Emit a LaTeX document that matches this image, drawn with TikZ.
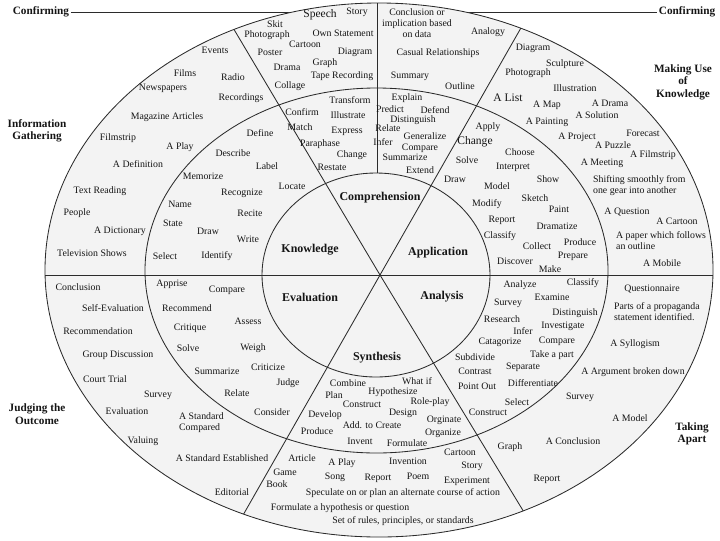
\documentclass[tikz,border=0pt]{standalone}
\usepackage{fontspec}
\setmainfont{Liberation Serif}
\definecolor{cline}{HTML}{2B2B2B}
\definecolor{cfill}{HTML}{F3F3F3}
\definecolor{ctext}{HTML}{151515}
\tikzset{
  every picture/.style={line width=0.6pt},
  item/.style={font=\fontsize{7}{7.8}\selectfont, text=ctext, inner sep=0.5pt, align=center},
  bigitem/.style={item, font=\fontsize{8.2}{9}\selectfont},
  core/.style={font=\fontsize{8.5}{9}\selectfont\bfseries, text=ctext, inner sep=0.5pt},
  side/.style={font=\fontsize{8}{8.8}\selectfont\bfseries, text=ctext, align=center, inner sep=1pt},
  ring/.style={draw=cline, line width=0.6pt},
}

\begin{document}
\begin{tikzpicture}[x=0.025cm, y=-0.025cm]
  \useasboundingbox (0,0) rectangle (720,540);

  % top line between the two Confirming labels
  \node[side] (confL) at (41,12) {Confirming};
  \node[side] (confR) at (687,12) {Confirming};
  \draw[ring] (confL) -- (confR);

  % the three rings
  \fill[cfill] (379,270) ellipse [x radius=334, y radius=267];
  \draw[ring] (379,270) ellipse [x radius=334, y radius=267];
  \draw[ring] (376.5,270.5) ellipse [x radius=231.5, y radius=182.5];
  \draw[ring] (376,275) ellipse [x radius=114, y radius=102];

  % spokes
  \coordinate (c) at (380,275);
  \coordinate (ul) at (204,-21);
  \coordinate (ur) at (550,-23);
  \coordinate (ll) at (218,559);
  \coordinate (lr) at (550,555);
  \coordinate (west) at (0,275);
  \coordinate (east) at (720,275);
  \coordinate (top) at (377,-5);
  \coordinate (itop) at (377,173);
  \begin{scope}
    \clip (379,270) ellipse [x radius=334, y radius=267];
    \draw[ring] (west) -- (east);
    \draw[ring] (c) -- (ul);
    \draw[ring] (c) -- (ur);
    \draw[ring] (c) -- (ll);
    \draw[ring] (c) -- (lr);
    \draw[ring] (itop) -- (top);
  \end{scope}

  % outside labels
  \node[side] (gath) at (37,131) {Information\\Gathering};
  \node[side] (use) at (683,82) {Making Use\\of\\Knowledge};
  \node[side] (judge) at (37,414) {Judging the\\Outcome};
  \node[side] (apart) at (692,434) {Taking\\Apart};

  % core
  \node[core] (know) at (310,250) {Knowledge};
  \node[core] (comp) at (380,198) {Comprehension};
  \node[core] (appl) at (438,253) {Application};
  \node[core] (eval) at (310,297) {Evaluation};
  \node[core] (anal) at (442,297) {Analysis};
  \node[core] (synt) at (377,358) {Synthesis};

  % middle ring: knowledge
  \node[item] (k1) at (260,133) {Define};
  \node[item] (k2) at (233,153) {Describe};
  \node[item] (k3) at (267,166) {Label};
  \node[item] (k4) at (203,176) {Memorize};
  \node[item] (k5) at (292,186) {Locate};
  \node[item] (k6) at (242,193) {Recognize};
  \node[item] (k7) at (180,204) {Name};
  \node[item] (k8) at (250,213) {Recite};
  \node[item] (k9) at (173,223) {State};
  \node[item] (k10) at (208,231) {Draw};
  \node[item] (k11) at (248,239) {Write};
  \node[item] (k12) at (165,256) {Select};
  \node[item] (k13) at (217,256) {Identify};

  % middle ring: comprehension
  \node[item] (c1) at (350,100) {Transform};
  \node[item] (c2) at (302,112) {Confirm};
  \node[item] (c3) at (348,115) {Illustrate};
  \node[item] (c4) at (300,127) {Match};
  \node[item] (c5) at (347,131) {Express};
  \node[item] (c6) at (320,144) {Paraphase};
  \node[item] (c7) at (352,155) {Change};
  \node[item] (c8) at (332,167) {Restate};
  \node[item] (c9) at (407,98) {Explain};
  \node[item] (c10) at (390,109) {Predict};
  \node[item] (c11) at (435,110) {Defend};
  \node[item] (c12) at (413,120) {Distinguish};
  \node[item] (c13) at (388,128) {Relate};
  \node[item] (c14) at (425,136) {Generalize};
  \node[item] (c15) at (383,142) {Infer};
  \node[item] (c16) at (420,148) {Compare};
  \node[item] (c17) at (405,157) {Summarize};
  \node[item] (c18) at (420,170) {Extend};

  % middle ring: application
  \node[item] (a1) at (488,127) {Apply};
  \node[bigitem] (a2) at (475,142) {Change};
  \node[item] (a3) at (520,152) {Choose};
  \node[item] (a4) at (467,160) {Solve};
  \node[item] (a5) at (513,167) {Interpret};
  \node[item] (a6) at (455,179) {Draw};
  \node[item] (a7) at (548,179) {Show};
  \node[item] (a8) at (497,186) {Model};
  \node[item] (a9) at (535,198) {Sketch};
  \node[item] (a10) at (487,204) {Modify};
  \node[item] (a11) at (559,209) {Paint};
  \node[item] (a12) at (502,220) {Report};
  \node[item] (a13) at (557,226) {Dramatize};
  \node[item] (a14) at (500,236) {Classify};
  \node[item] (a15) at (580,242) {Produce};
  \node[item] (a16) at (537,246) {Collect};
  \node[item] (a17) at (573,256) {Prepare};
  \node[item] (a18) at (515,261) {Discover};
  \node[item] (a19) at (550,269) {Make};

  % middle ring: evaluation
  \node[item] (e1) at (172,284) {Apprise};
  \node[item] (e2) at (227,290) {Compare};
  \node[item] (e3) at (187,308) {Recommend};
  \node[item] (e4) at (248,321) {Assess};
  \node[item] (e5) at (190,328) {Critique};
  \node[item] (e6) at (188,348) {Solve};
  \node[item] (e7) at (253,348) {Weigh};
  \node[item] (e8) at (268,367) {Criticize};
  \node[item] (e9) at (217,371) {Summarize};
  \node[item] (e10) at (288,383) {Judge};
  \node[item] (e11) at (237,393) {Relate};
  \node[item] (e12) at (272,412) {Consider};

  % middle ring: synthesis
  \node[item] (s1) at (348,383) {Combine};
  \node[item] (s2) at (417,381) {What if};
  \node[item] (s3) at (334,395) {Plan};
  \node[item] (s4) at (393,392) {Hypothesize};
  \node[item] (s5) at (362,404) {Construct};
  \node[item] (s6) at (430,402) {Role-play};
  \node[item] (s7) at (325,415) {Develop};
  \node[item] (s8) at (403,413) {Design};
  \node[item] (s9) at (444,420) {Orginate};
  \node[item] (s10) at (372,425) {Add. to Create};
  \node[item] (s11) at (317,431) {Produce};
  \node[item] (s12) at (443,433) {Organize};
  \node[item] (s13) at (360,441) {Invent};
  \node[item] (s14) at (407,443) {Formulate};

  % middle ring: analysis
  \node[item] (n1) at (520,285) {Analyze};
  \node[item] (n2) at (583,283) {Classify};
  \node[item] (n3) at (552,297) {Examine};
  \node[item] (n4) at (508,303) {Survey};
  \node[item] (n5) at (575,313) {Distinguish};
  \node[item] (n6) at (502,319) {Research};
  \node[item] (n7) at (563,326) {Investigate};
  \node[item] (n8) at (523,331) {Infer};
  \node[item] (n9) at (557,341) {Compare};
  \node[item] (n10) at (500,342) {Catagorize};
  \node[item] (n11) at (552,355) {Take a part};
  \node[item] (n12) at (475,357) {Subdivide};
  \node[item] (n13) at (523,367) {Separate};
  \node[item] (n14) at (475,371) {Contrast};
  \node[item] (n15) at (533,383) {Differentiate};
  \node[item] (n16) at (477,386) {Point Out};
  \node[item] (n17) at (517,402) {Select};
  \node[item] (n18) at (488,412) {Construct};

  % outer ring: information gathering
  \node[item] (g1) at (215,50) {Events};
  \node[item] (g2) at (185,73) {Films};
  \node[item] (g3) at (233,77) {Radio};
  \node[item] (g4) at (163,88) {Newspapers};
  \node[item] (g5) at (241,98) {Recordings};
  \node[item] (g6) at (167,117) {Magazine Articles};
  \node[item] (g7) at (118,138) {Filmstrip};
  \node[item] (g8) at (180,147) {A Play};
  \node[item] (g9) at (138,164) {A Definition};
  \node[item] (g10) at (100,191) {Text Reading};
  \node[item] (g11) at (77,213) {People};
  \node[item] (g12) at (120,231) {A Dictionary};
  \node[item] (g13) at (92,253) {Television Shows};

  % outer ring: confirming
  \node[item] (f1) at (275,24) {Skit};
  \node[bigitem] (f2) at (320,15) {Speech};
  \node[item] (f3) at (357,12) {Story};
  \node[item] (f4) at (267,35) {Photograph};
  \node[item] (f5) at (343,33) {Own Statement};
  \node[item] (f6) at (305,44) {Cartoon};
  \node[item] (f7) at (270,52) {Poster};
  \node[item] (f8) at (355,52) {Diagram};
  \node[item] (f9) at (287,67) {Drama};
  \node[item] (f10) at (325,63) {Graph};
  \node[item] (f11) at (342,76) {Tape Recording};
  \node[item] (f12) at (290,86) {Collage};
  \node[item] (f13) at (417,23) {Conclusion or\\implication based\\on data};
  \node[item] (f14) at (488,32) {Analogy};
  \node[item] (f15) at (438,53) {Casual Relationships};
  \node[item] (f16) at (410,76) {Summary};
  \node[item] (f17) at (460,86) {Outline};

  % outer ring: making use of knowledge
  \node[item] (m1) at (533,48) {Diagram};
  \node[item] (m2) at (565,64) {Sculpture};
  \node[item] (m3) at (528,73) {Photograph};
  \node[item] (m4) at (575,88) {Illustration};
  \node[bigitem] (m5) at (508,98) {A List};
  \node[item] (m6) at (547,105) {A Map};
  \node[item] (m7) at (610,103) {A Drama};
  \node[item] (m8) at (597,115) {A Solution};
  \node[item] (m9) at (547,122) {A Painting};
  \node[item] (m10) at (577,137) {A Project};
  \node[item] (m11) at (643,133) {Forecast};
  \node[item] (m12) at (613,145) {A Puzzle};
  \node[item] (m13) at (653,155) {A Filmstrip};
  \node[item] (m14) at (602,163) {A Meeting};
  \node[item, anchor=west, align=left] (m15) at (592,186) {Shifting smoothly from\\one gear into another};
  \node[item] (m16) at (627,212) {A Question};
  \node[item] (m17) at (677,221) {A Cartoon};
  \node[item, anchor=west, align=left] (m18) at (615,241) {A paper which follows\\an outline};
  \node[item] (m19) at (662,263) {A Mobile};

  % outer ring: judging the outcome
  \node[item] (j1) at (78,287) {Conclusion};
  \node[item] (j2) at (113,308) {Self-Evaluation};
  \node[item] (j3) at (98,331) {Recommendation};
  \node[item] (j4) at (118,355) {Group Discussion};
  \node[item] (j5) at (105,379) {Court Trial};
  \node[item] (j6) at (158,395) {Survey};
  \node[item] (j7) at (127,411) {Evaluation};
  \node[item, anchor=west, align=left] (j8) at (178,423) {A Standard\\Compared};
  \node[item] (j9) at (143,441) {Valuing};
  \node[item] (j10) at (222,458) {A Standard Established};
  \node[item] (j11) at (232,492) {Editorial};

  % outer ring: bottom
  \node[item] (b1) at (302,458) {Article};
  \node[item] (b2) at (342,463) {A Play};
  \node[item] (b3) at (408,461) {Invention};
  \node[item] (b4) at (460,452) {Cartoon};
  \node[item] (b5) at (472,466) {Story};
  \node[item] (b6) at (285,472) {Game};
  \node[item] (b7) at (335,477) {Song};
  \node[item] (b8) at (378,478) {Report};
  \node[item] (b9) at (418,476) {Poem};
  \node[item] (b10) at (467,481) {Experiment};
  \node[item] (b11) at (277,484) {Book};
  \node[item] (b12) at (403,493) {Speculate on or plan an alternate course of action};
  \node[item] (b13) at (340,508) {Formulate a hypothesis or question};
  \node[item] (b14) at (403,521) {Set of rules, principles, or standards};

  % outer ring: taking apart
  \node[item] (t1) at (652,289) {Questionnaire};
  \node[item, anchor=west, align=left] (t2) at (613,312) {Parts of a propaganda\\statement identified.};
  \node[item] (t3) at (635,344) {A Syllogism};
  \node[item] (t4) at (633,372) {A Argument broken down};
  \node[item] (t5) at (580,397) {Survey};
  \node[item] (t6) at (630,418) {A Model};
  \node[item] (t7) at (573,441) {A Conclusion};
  \node[item] (t8) at (510,447) {Graph};
  \node[item] (t9) at (547,479) {Report};
\end{tikzpicture}
\end{document}
